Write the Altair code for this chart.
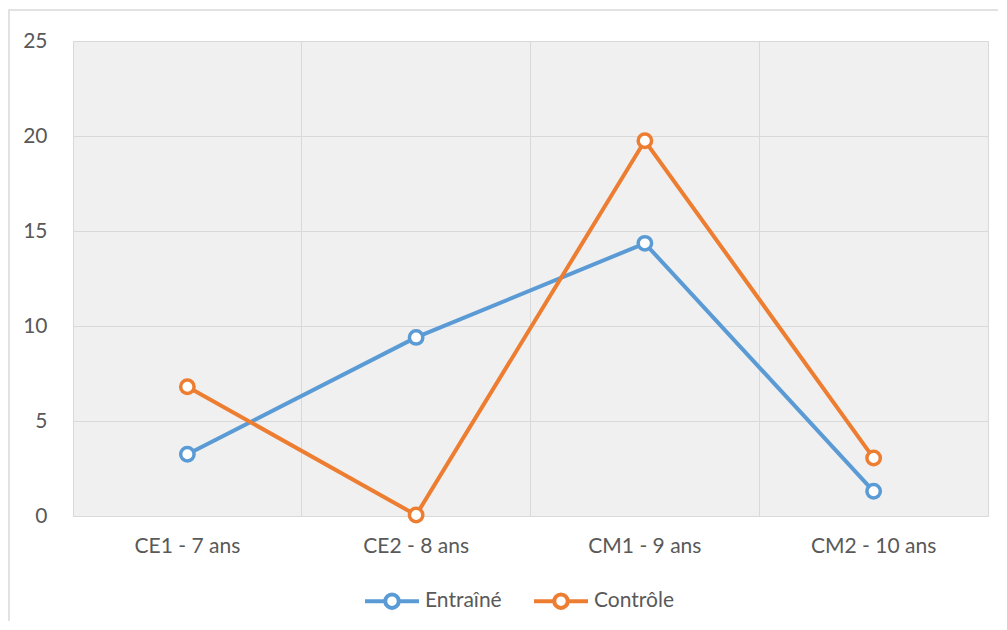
import altair as alt
import pandas as pd

categories = ["CE1 - 7 ans", "CE2 - 8 ans", "CM1 - 9 ans", "CM2 - 10 ans"]
entraine = [3.25, 9.4, 14.35, 1.3]
controle = [6.8, 0.05, 19.75, 3.05]
series = ["Entraîné", "Contrôle"]
colors = ["#5B9BD5", "#ED7D31"]

rows = []
for c, v in zip(categories, entraine):
    rows.append({"cat": c, "val": v, "grp": series[0]})
for c, v in zip(categories, controle):
    rows.append({"cat": c, "val": v, "grp": series[1]})
df = pd.DataFrame(rows)

W, H = 915, 475
FONT = "Lato"
GREY = "#595959"

legend_path = ("M-1,0 L-0.25,0 M0.25,0 L1,0 "
               "M0.25,0 A0.25,0.25 0 1,1 -0.25,0 A0.25,0.25 0 1,1 0.25,0 Z")

x = alt.X("cat:N", sort=categories, title=None,
          scale=alt.Scale(type="band", paddingInner=0, paddingOuter=0),
          axis=alt.Axis(labelAngle=0, labelFont=FONT, labelFontSize=21,
                        labelColor=GREY, labelPadding=19, ticks=False,
                        domain=False, grid=True, gridColor="#d9d9d9",
                        bandPosition=0))
y = alt.Y("val:Q", title=None,
          scale=alt.Scale(domain=[0, 25], nice=False),
          axis=alt.Axis(values=[0, 5, 10, 15, 20, 25], labelFont=FONT,
                        labelFontSize=21, labelColor=GREY, labelPadding=26,
                        ticks=False, domain=False, grid=True,
                        gridColor="#d9d9d9"))
color = alt.Color("grp:N", sort=series,
                  scale=alt.Scale(domain=series, range=colors),
                  legend=alt.Legend(title=None, orient="none",
                                    legendX=290, legendY=531,
                                    direction="horizontal",
                                    symbolType=legend_path, symbolSize=2916,
                                    symbolStrokeWidth=4,
                                    symbolFillColor="white",
                                    labelFont=FONT, labelFontSize=21,
                                    labelColor=GREY, labelOffset=4,
                                    columnPadding=24))

frame = alt.Chart(pd.DataFrame({"a": [0]})).mark_rect(
    fill=None, stroke="#d9d9d9", strokeWidth=1.5
).encode(x=alt.value(-64), x2=alt.value(W + 100),
         y=alt.value(-31), y2=alt.value(H + 200))

lines = alt.Chart(df).mark_line(strokeWidth=4).encode(
    x=x, y=y, color=color, detail="grp:N")
points = alt.Chart(df).mark_point(
    shape="circle", filled=True, fill="white", size=180, strokeWidth=3.5,
    opacity=1
).encode(x=x, y=y, stroke=alt.Stroke("grp:N", sort=series,
                                     scale=alt.Scale(domain=series, range=colors),
                                     legend=None))

chart = alt.layer(frame, lines, points).properties(
    width=W, height=H,
    autosize=alt.AutoSizeParams(type="none"),
    padding={"left": 65, "top": 33, "right": 10, "bottom": 105},
    background="white",
).configure_view(fill="#f0f0f0", stroke="#d9d9d9", strokeWidth=1)

chart.save("out.html", embed_options={"renderer": "svg", "actions": False})
